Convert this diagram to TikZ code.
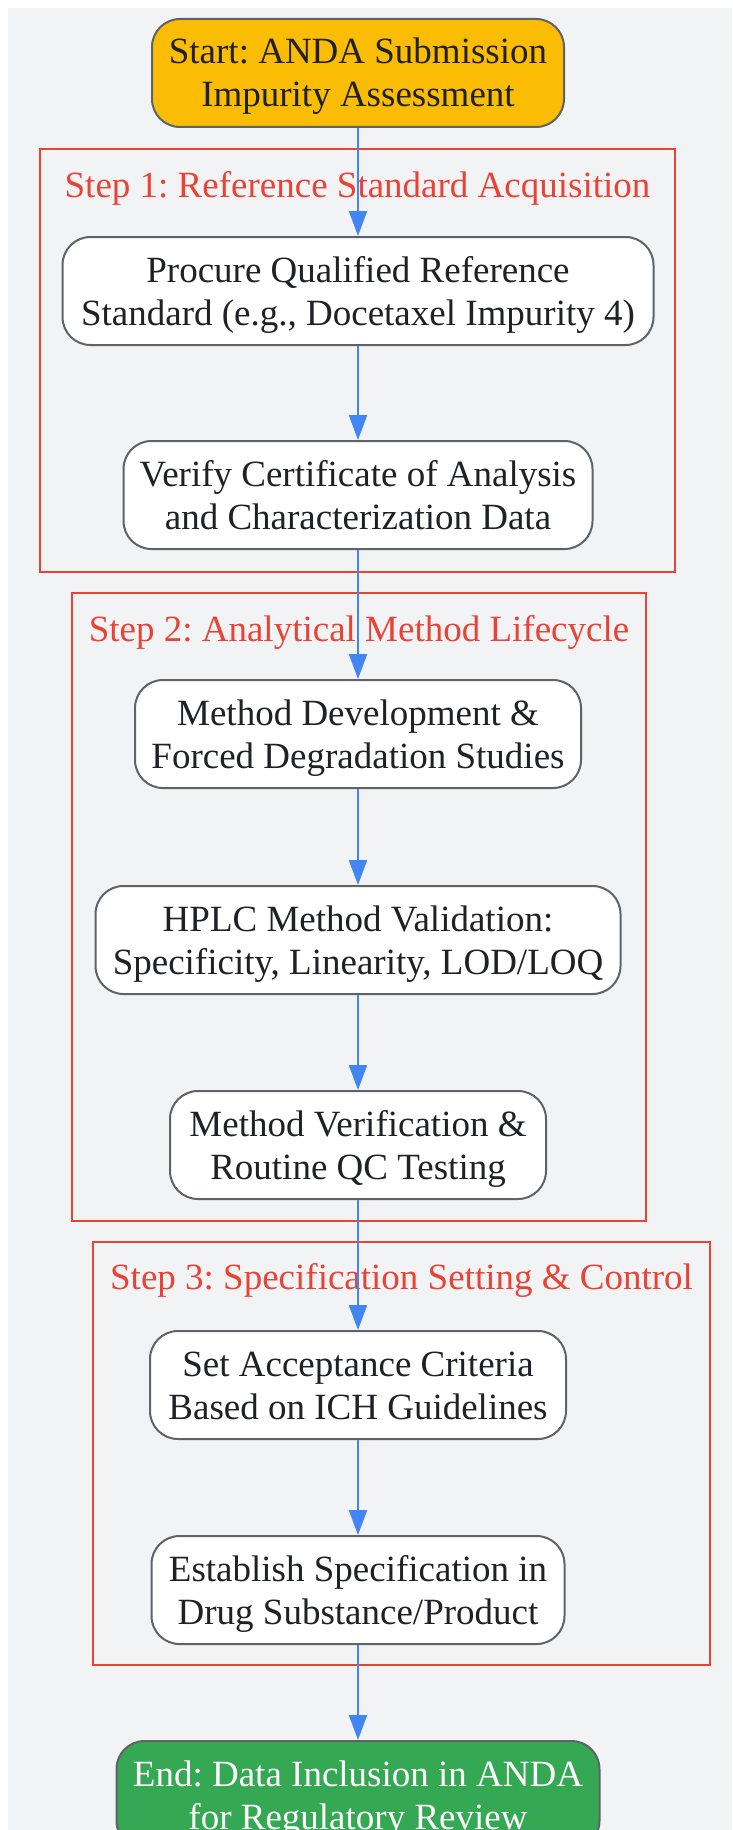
\documentclass[tikz,border=0pt]{standalone}
\usepackage{fontspec}
\setmainfont{Liberation Serif}
\usetikzlibrary{arrows.meta}
\definecolor{bgc}{HTML}{F1F3F4}
\definecolor{nodeborder}{HTML}{5F6368}
\definecolor{txt}{HTML}{202124}
\definecolor{clred}{HTML}{EA4335}
\definecolor{arrblue}{HTML}{4285F4}
\definecolor{startc}{HTML}{FBBC04}
\definecolor{endc}{HTML}{34A853}
\frenchspacing
\newcommand\twol[2]{\raisebox{9pt}[0pt][0pt]{\begin{tabular}[t]{@{}c@{}}#1\\#2\end{tabular}}}
\begin{document}
\begin{tikzpicture}[x=1pt,y=-1pt,
  box/.style={draw=nodeborder, line width=2pt, rounded corners=28pt, fill=white,
    align=center, inner sep=0pt, text=txt, minimum height=108pt,
    font=\fontsize{37}{43}\selectfont},
  cluster/.style={draw=clred, line width=2.5pt},
  ctitle/.style={text=clred, inner sep=0pt, font=\fontsize{37}{43}\selectfont},
  arr/.style={draw=arrblue, line width=2pt, -{Triangle[length=25pt,width=18pt]}}]
\useasboundingbox (0,0) rectangle (732,1830);
\fill[bgc] (8,8) rectangle (732,1830);
% clusters
\draw[cluster] (40,149) rectangle (675,572);
\draw[cluster] (72,593) rectangle (646,1221);
\draw[cluster] (93,1242) rectangle (710,1665);
\node[ctitle] (t1) at (357.5,188) {Step 1: Reference Standard Acquisition};
\node[ctitle] (t2) at (359,632) {Step 2: Analytical Method Lifecycle};
\node[ctitle] (t3) at (401.5,1280) {Step 3: Specification Setting \& Control};
% nodes
\node[box, fill=startc, minimum width=412pt] (start) at (358,73) {\twol{Start: ANDA Submission}{Impurity Assessment}};
\node[box, minimum width=591pt] (procure) at (358,291) {\twol{Procure Qualified Reference}{Standard (e.g., Docetaxel Impurity 4)}};
\node[box, minimum width=469pt] (verify) at (358,495) {\twol{Verify Certificate of Analysis}{and Characterization Data}};
\node[box, minimum width=446pt] (dev) at (358,734) {\twol{Method Development \&}{Forced Degradation Studies}};
\node[box, minimum width=525pt] (hplc) at (358,940) {\twol{HPLC Method Validation:}{Specificity, Linearity, LOD/LOQ}};
\node[box, minimum width=376pt] (mver) at (358,1145) {\twol{Method Verification \&}{Routine QC Testing}};
\node[box, minimum width=416pt] (acc) at (358,1385) {\twol{Set Acceptance Criteria}{Based on ICH Guidelines}};
\node[box, minimum width=413pt] (spec) at (358,1590) {\twol{Establish Specification in}{Drug Substance/Product}};
\node[box, fill=endc, text=white, minimum width=483pt] (end) at (358,1795) {\twol{End: Data Inclusion in ANDA}{for Regulatory Review}};
% connectors
\draw[arr] (start) -- (procure);
\draw[arr] (procure) -- (verify);
\draw[arr] (verify) -- (dev);
\draw[arr] (dev) -- (hplc);
\draw[arr] (hplc) -- (mver);
\draw[arr] (mver) -- (acc);
\draw[arr] (acc) -- (spec);
\draw[arr] (spec) -- (end);
\end{tikzpicture}
\end{document}
